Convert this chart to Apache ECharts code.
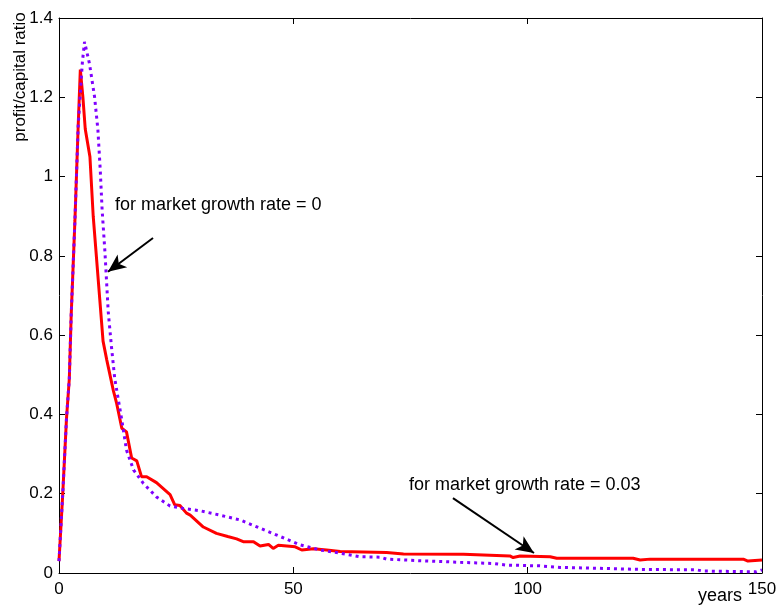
<!DOCTYPE html>
<html>
<head>
<meta charset="utf-8">
<script src="https://cdn.jsdelivr.net/npm/echarts@6/dist/echarts.min.js"></script>
<style>
  html, body { margin: 0; padding: 0; background: #fff; }
  #chart { width: 780px; height: 613px; }
</style>
</head>
<body>
<div id="chart"></div>
<script>
// values: [year, profit/capital ratio]
var redLine = [
  [0, 0.03], [0.8, 0.2], [1.6, 0.39], [2.2, 0.49], [2.6, 0.65], [3.4, 0.89], [4.1, 1.13],
  [4.55, 1.27], [5.1, 1.2], [5.6, 1.12], [6.6, 1.05], [7.3, 0.9], [7.9, 0.81], [8.7, 0.69],
  [9.4, 0.585], [10.2, 0.537], [11.6, 0.46], [12.3, 0.428], [13.4, 0.365], [14.4, 0.356],
  [15.5, 0.29], [16.6, 0.283], [17.6, 0.243], [18.7, 0.243], [20.8, 0.228], [23.7, 0.198],
  [24.7, 0.172], [25.8, 0.17], [27.2, 0.151], [28, 0.146], [30.8, 0.116], [33.6, 0.1],
  [36, 0.092], [37.9, 0.086], [39.3, 0.079], [41.5, 0.079], [42.9, 0.068], [44.7, 0.072],
  [45.7, 0.062], [46.8, 0.07], [50.4, 0.066], [51.8, 0.058], [54.3, 0.061], [57.1, 0.058],
  [60, 0.054], [69.9, 0.052], [73.5, 0.048], [86.3, 0.047], [96.2, 0.043], [96.9, 0.039],
  [98.4, 0.043], [104.8, 0.041], [106.2, 0.037], [122.5, 0.037], [124, 0.033], [126.1, 0.035],
  [146, 0.035], [147, 0.03], [150, 0.033]
];
var blueLine = [
  [0, 0.03], [0.8, 0.2], [1.6, 0.39], [2.2, 0.49], [2.6, 0.65], [3.4, 0.89], [4.1, 1.13],
  [4.6, 1.22], [5.0, 1.29], [5.45, 1.34], [6.5, 1.285], [7.6, 1.2], [8.3, 1.118], [8.8, 1.017],
  [9.2, 0.916], [9.8, 0.81], [10.5, 0.66], [11.2, 0.57], [11.9, 0.49], [13.4, 0.386],
  [14.4, 0.31], [15.9, 0.26], [18, 0.226], [20.8, 0.192], [23.7, 0.169], [26.5, 0.163],
  [30.1, 0.157], [34.3, 0.146], [38.6, 0.134], [42.9, 0.113], [47.2, 0.092], [51.4, 0.071],
  [55.7, 0.058], [60, 0.05], [64.2, 0.041], [68.5, 0.04], [69.9, 0.035], [73.5, 0.033],
  [77, 0.031], [85.6, 0.027], [92.7, 0.024], [95.5, 0.02], [102.6, 0.018], [106.9, 0.014],
  [114.7, 0.012], [124, 0.009], [136, 0.008], [137.4, 0.005], [148.8, 0.003], [150, 0.008]
];
var xTicks = [0, 50, 100, 150];
var yTicks = [0, 0.2, 0.4, 0.6, 0.8, 1, 1.2, 1.4];
var notes = ['for market growth rate = 0', 'for market growth rate = 0.03'];
// arrows: [from, to] in data units
var arrow0 = [[20.06, 0.845], [10.45, 0.76]];
var arrow1 = [[84.06, 0.189], [101.35, 0.0505]];

var chart = echarts.init(document.getElementById('chart'));
var font = 'Liberation Sans, Arial, sans-serif';

function axisBase(extra) {
  var a = {
    type: 'value',
    axisLine: { show: true, onZero: false, lineStyle: { color: '#000', width: 1 } },
    axisTick: { show: true, inside: true, length: 6, lineStyle: { color: '#000' } },
    splitLine: { show: false },
    axisLabel: { show: false }
  };
  for (var k in extra) a[k] = extra[k];
  return a;
}

chart.setOption({
  animation: false,
  backgroundColor: '#fff',
  grid: { left: 59, top: 18, right: 18, bottom: 40 },
  xAxis: [
    axisBase({
      min: xTicks[0], max: xTicks[xTicks.length - 1], interval: 50,
      axisLabel: { show: true, color: '#000', fontSize: 17, fontFamily: font, margin: 8 }
    }),
    axisBase({ position: 'top', min: 0, max: 150, interval: 50 })
  ],
  yAxis: [
    axisBase({
      min: yTicks[0], max: yTicks[yTicks.length - 1], interval: 0.2,
      axisLabel: { show: true, color: '#000', fontSize: 17, fontFamily: font, margin: 6,
        formatter: function (v) { return String(Math.round(v * 10) / 10); } }
    }),
    axisBase({ position: 'right', min: 0, max: 1.4, interval: 0.2 })
  ],
  series: [
    {
      type: 'line', data: redLine, showSymbol: false, silent: true,
      lineStyle: { color: '#ff0000', width: 3 },
      markLine: {
        silent: true, animation: false,
        symbol: ['none', 'arrow'], symbolSize: [12, 18],
        lineStyle: { color: '#000', width: 2, type: 'solid' },
        label: { show: false },
        data: [
          [{ coord: arrow0[0] }, { coord: arrow0[1] }],
          [{ coord: arrow1[0] }, { coord: arrow1[1] }]
        ]
      }
    },
    {
      type: 'line', data: blueLine, showSymbol: false, silent: true,
      lineStyle: { color: '#7f00ff', width: 3, type: [3, 4] }
    }
  ],
  graphic: [
    { type: 'text', left: 115, top: 196, style: { text: notes[0], fill: '#000', font: '18px ' + font } },
    { type: 'text', left: 409, top: 476, style: { text: notes[1], fill: '#000', font: '18px ' + font } },
    { type: 'text', left: 698, top: 587, style: { text: 'years', fill: '#000', font: '18px ' + font } },
    { type: 'text', x: 20, y: 77, rotation: Math.PI / 2,
      style: { text: 'profit/capital ratio', fill: '#000', font: '17px ' + font, align: 'center', verticalAlign: 'middle' } }
  ]
});
</script>
</body>
</html>
